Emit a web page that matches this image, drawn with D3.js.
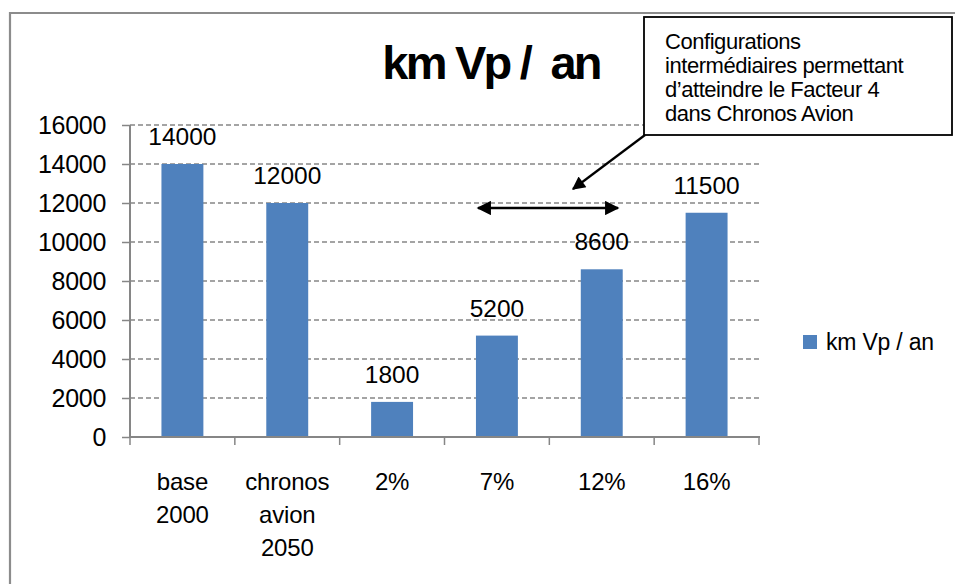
<!DOCTYPE html>
<html><head><meta charset="utf-8">
<script src="https://cdn.jsdelivr.net/npm/d3@7"></script>
<style>
html,body{margin:0;padding:0;background:#fff;}
svg{display:block;font-family:"Liberation Sans",Arial,sans-serif;}
</style></head>
<body>
<svg id="chart" width="955" height="584"></svg>
<script>
const categories = ["base 2000", "chronos avion 2050", "2%", "7%", "12%", "16%"];
const categoryLines = [["base","2000"],["chronos","avion","2050"],["2%"],["7%"],["12%"],["16%"]];
const values = [14000, 12000, 1800, 5200, 8600, 11500];
const yTicks = [0, 2000, 4000, 6000, 8000, 10000, 12000, 14000, 16000];
const seriesName = "km Vp / an";
const titleText = "km Vp /  an";
const noteLines = ["Configurations", "intermédiaires permettant", "d’atteindre le Facteur 4", "dans Chronos Avion"];

const svg = d3.select("#chart");
const barColor = "#4F81BD";
const axisColor = "#868686";

// outer frame
svg.append("path").attr("d","M10,584 L10,13 L955,13")
  .attr("fill","none").attr("stroke","#8c8c8c").attr("stroke-width",2.2);

const x = d3.scaleBand().domain(categories).range([130, 759]).paddingInner(0.6).paddingOuter(0.3);
const xFull = d3.scaleBand().domain(categories).range([130, 759]).padding(0);
const y = d3.scaleLinear().domain([0, 16000]).range([437, 125]);

// gridlines
svg.append("g").selectAll("line").data(yTicks.filter(d=>d>0)).join("line")
  .attr("x1",130).attr("x2",760).attr("y1",d=>y(d)).attr("y2",d=>y(d))
  .attr("stroke",axisColor).attr("stroke-width",1.3).attr("stroke-dasharray","5,3");

// bars
svg.append("g").selectAll("rect").data(values).join("rect")
  .attr("x",(d,i)=>x(categories[i])).attr("width",x.bandwidth())
  .attr("y",d=>y(d)).attr("height",d=>y(0)-y(d)).attr("fill",barColor);

// y axis
const yAxis = d3.axisLeft(y).tickValues(yTicks).tickSize(8).tickPadding(16).tickFormat(d3.format("d"));
const gy = svg.append("g").attr("transform","translate(130,0)").call(yAxis);
gy.select(".domain").attr("stroke",axisColor).attr("stroke-width",2).attr("d","M0,125V437");
gy.selectAll(".tick line").attr("stroke",axisColor).attr("stroke-width",1.5);
gy.selectAll(".tick text").attr("fill","#000").attr("font-size",25).attr("font-family","Liberation Sans, Arial, sans-serif").attr("dy","0.35em").attr("letter-spacing","-0.3");

// x axis
const xAxis = d3.axisBottom(xFull).tickSize(0).tickFormat("");
const gx = svg.append("g").attr("transform","translate(0,437)").call(xAxis);
gx.select(".domain").attr("stroke",axisColor).attr("stroke-width",2).attr("d","M130,0H760");
const xTickPos = categories.map(c=>xFull(c)).concat([759]);
gx.selectAll(".xt").data(xTickPos).join("line").attr("class","xt")
  .attr("x1",d=>d).attr("x2",d=>d).attr("y1",0).attr("y2",8)
  .attr("stroke",axisColor).attr("stroke-width",1.5);

// category labels
const catG = svg.append("g");
categoryLines.forEach((lines,i)=>{
  const cx = xFull(categories[i]) + xFull.bandwidth()/2;
  const t = catG.append("text").attr("x",cx).attr("y",490).attr("text-anchor","middle")
    .attr("font-size",24).attr("letter-spacing","-0.2").attr("fill","#000");
  lines.forEach((l,j)=>t.append("tspan").attr("x",cx).attr("dy", j===0?0:33).text(l));
});

// data labels
svg.append("g").selectAll("text").data(values).join("text")
  .attr("x",(d,i)=>x(categories[i])+x.bandwidth()/2).attr("y",d=>y(d)-19)
  .attr("text-anchor","middle").attr("font-size",24.5).attr("letter-spacing","0").attr("fill","#000").text(d=>d);

// title
svg.append("text").attr("x",491).attr("y",79).attr("text-anchor","middle")
  .attr("font-size",47).attr("font-weight","bold").attr("letter-spacing","-2.8")
  .attr("xml:space","preserve").style("white-space","pre").text(titleText);

// legend
svg.append("rect").attr("x",803).attr("y",335).attr("width",14).attr("height",14).attr("fill",barColor);
svg.append("text").attr("x",826).attr("y",350).attr("font-size",23).attr("letter-spacing","-0.2").attr("fill","#000").text(seriesName);

// arrow markers
const defs = svg.append("defs");
defs.append("marker").attr("id","ah").attr("viewBox","0 0 10 10").attr("refX",9).attr("refY",5)
  .attr("markerWidth",7).attr("markerHeight",6).attr("markerUnits","strokeWidth").attr("orient","auto-start-reverse")
  .append("path").attr("d","M0,0L10,5L0,10Z").attr("fill","#000");

// annotation box
svg.append("rect").attr("x",644).attr("y",17).attr("width",308).attr("height",118)
  .attr("fill","#fff").attr("stroke","#000").attr("stroke-width",1.8);
const note = svg.append("text").attr("x",665).attr("y",49).attr("font-size",22).attr("letter-spacing","-0.45").attr("fill","#000");
noteLines.forEach((l,j)=>note.append("tspan").attr("x",665).attr("dy", j===0?0:24).text(l));

// pointer arrow
svg.append("line").attr("x1",645).attr("y1",135).attr("x2",573).attr("y2",189)
  .attr("stroke","#000").attr("stroke-width",2.2).attr("marker-end","url(#ah)");
// double arrow
svg.append("line").attr("x1",478).attr("y1",208).attr("x2",618).attr("y2",208)
  .attr("stroke","#000").attr("stroke-width",2.4).attr("marker-end","url(#ah)").attr("marker-start","url(#ah)");
</script>
</body></html>
